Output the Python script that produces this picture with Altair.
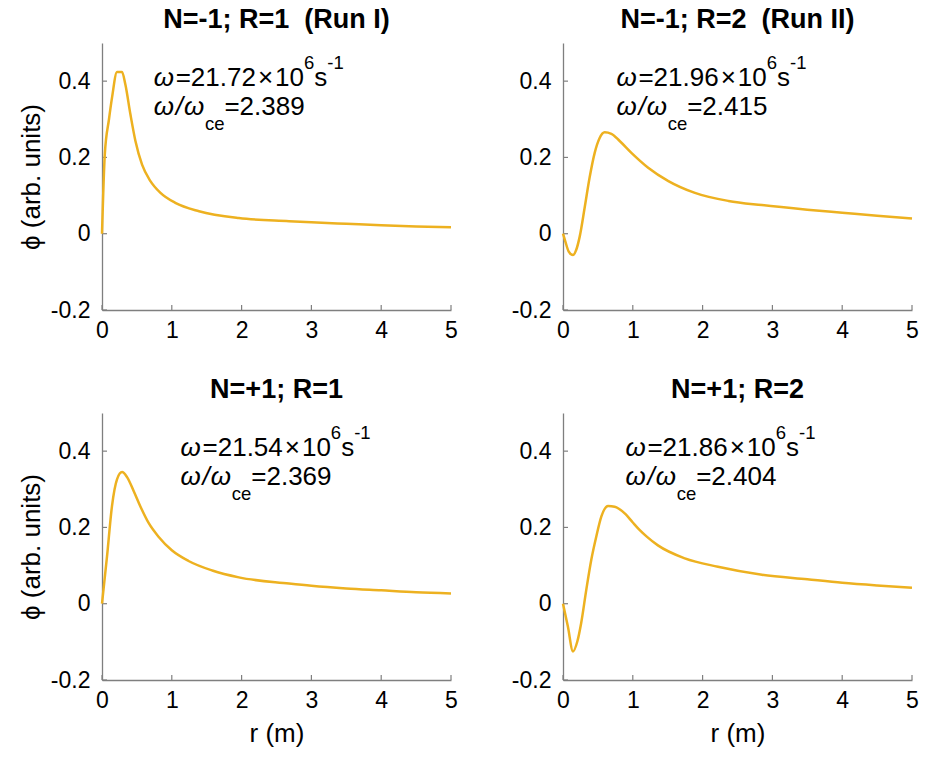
import altair as alt
import pandas as pd

# ---------------- data ----------------
r1 = [0, 0.04, 0.1, 0.143, 0.215, 0.287, 0.335, 0.407, 0.479, 0.574, 0.694, 0.838, 1.05, 1.39, 1.96, 2.68, 3.0, 3.5, 4.0, 4.5, 5.0]
phi1 = [0, 0.208, 0.30, 0.356, 0.424, 0.424, 0.391, 0.313, 0.243, 0.181, 0.138, 0.107, 0.081, 0.059, 0.041, 0.033, 0.030, 0.026, 0.022, 0.019, 0.017]

r2 = [0, 0.033, 0.08, 0.143, 0.19, 0.24, 0.31, 0.38, 0.454, 0.525, 0.597, 0.693, 0.812, 0.98, 1.22, 1.51, 1.89, 2.37, 2.85, 3.5, 4.0, 4.5, 5.0]
phi2 = [0, -0.02, -0.046, -0.056, -0.042, -0.007, 0.068, 0.146, 0.212, 0.251, 0.266, 0.262, 0.243, 0.212, 0.173, 0.138, 0.107, 0.086, 0.075, 0.063, 0.055, 0.047, 0.040]

r3 = [0, 0.072, 0.143, 0.215, 0.287, 0.359, 0.455, 0.55, 0.67, 0.813, 1.0, 1.24, 1.58, 1.96, 2.68, 3.0, 3.5, 4.0, 4.5, 5.0]
phi3 = [0, 0.124, 0.256, 0.326, 0.345, 0.332, 0.295, 0.255, 0.211, 0.175, 0.14, 0.112, 0.087, 0.069, 0.053, 0.047, 0.040, 0.035, 0.030, 0.027]

r4 = [0, 0.07, 0.143, 0.205, 0.26, 0.334, 0.406, 0.478, 0.55, 0.646, 0.74, 0.8, 0.9, 1.0, 1.1, 1.2, 1.36, 1.745, 2.22, 2.85, 3.5, 4.0, 4.5, 5.0]
phi4 = [0, -0.06, -0.125, -0.099, -0.051, 0.037, 0.116, 0.177, 0.229, 0.256, 0.254, 0.249, 0.234, 0.213, 0.193, 0.176, 0.153, 0.119, 0.097, 0.076, 0.064, 0.055, 0.048, 0.042]

titles = ["N=-1; R=1\u00a0 (Run I)", "N=-1; R=2\u00a0 (Run II)", "N=+1; R=1", "N=+1; R=2"]
omega_vals = ["21.72", "21.96", "21.54", "21.86"]
ratio_vals = ["2.389", "2.415", "2.369", "2.404"]
label_r = [0.74, 0.765, 1.125, 0.894]
label_phi = [0.387, 0.31]

xticks = [0, 1, 2, 3, 4, 5]
yticks = [-0.2, 0, 0.2, 0.4]

# ---------------- styling ----------------
FONT = "Liberation Sans"
F = 26      # annotation font
FS = 18.5   # super/subscript font
LINE_COLOR = "#EDB120"
AXIS_COLOR = "#7f7f7f"
W, H = 349, 267

ADV = {'0': .556, '1': .556, '2': .556, '3': .556, '4': .556, '5': .556, '6': .556,
       '7': .556, '8': .556, '9': .556, '.': .278, '=': .584, '\u00d7': .584,
       's': .5, '-': .333, 'c': .5, 'e': .556, '/': .278}


def tw(s, size):
    return sum(ADV[c] for c in s) * size


xscale = alt.Scale(domain=[0, 5], nice=False, zero=False)
yscale = alt.Scale(domain=[-0.2, 0.5], nice=False, zero=False)


def x_axis(show_title):
    return alt.Axis(values=xticks, ticks=False, tickSize=0, grid=False, labelFlush=False,
                    labelPadding=9, labelExpr="toString(datum.value)",
                    title="r (m)" if show_title else None, titlePadding=8)


def y_axis(show_title):
    return alt.Axis(values=yticks, ticks=False, tickSize=0, grid=False,
                    labelPadding=12, labelExpr="toString(datum.value)",
                    title="\u03d5 (arb. units)" if show_title else None, titlePadding=6)


def enc(xa, ya):
    return dict(x=alt.X("r:Q", scale=xscale, axis=xa), y=alt.Y("phi:Q", scale=yscale, axis=ya))


def piece(i, text, phi, dx, dy, size, xa, ya, italic=False):
    df = pd.DataFrame({"r": [label_r[i]], "phi": [phi], "txt": [text]})
    return alt.Chart(df).mark_text(
        align="left", baseline="alphabetic", dx=dx, dy=dy, fontSize=size, font=FONT,
        color="black", fontStyle="italic" if italic else "normal"
    ).encode(text="txt:N", **enc(xa, ya))


def panel(i, r, phi, show_y, show_x):
    xa, ya = x_axis(show_x), y_axis(show_y)
    line = alt.Chart(pd.DataFrame({"r": r, "phi": phi})).mark_line(
        color=LINE_COLOR, strokeWidth=2.5, interpolate="monotone"
    ).encode(**enc(xa, ya))
    xt = alt.Chart(pd.DataFrame({"r": xticks})).mark_rule(color=AXIS_COLOR, strokeWidth=1.2).encode(
        x=alt.X("r:Q", scale=xscale, axis=xa), y=alt.value(H), y2=alt.value(H - 5))
    yt = alt.Chart(pd.DataFrame({"phi": yticks})).mark_rule(color=AXIS_COLOR, strokeWidth=1.2).encode(
        y=alt.Y("phi:Q", scale=yscale, axis=ya), x=alt.value(0), x2=alt.value(5))

    p1, p2 = label_phi
    WO = 22
    layers = [xt, yt, line]
    # line 1: ω=21.72×10^6 s^-1
    d = 0
    layers.append(piece(i, "\u03c9", p1, d, 0, F, xa, ya, italic=True))
    d += WO
    layers.append(piece(i, "=" + omega_vals[i], p1, d, 0, F, xa, ya))
    d += tw("=" + omega_vals[i], F) + 2
    layers.append(piece(i, "\u00d7", p1, d, 0, F, xa, ya))
    d += tw("\u00d7", F) + 2
    layers.append(piece(i, "10", p1, d, 0, F, xa, ya))
    d += tw("10", F)
    layers.append(piece(i, "6", p1, d, -17, FS, xa, ya))
    d += tw("6", FS)
    layers.append(piece(i, "s", p1, d, 0, F, xa, ya))
    d += tw("s", F)
    layers.append(piece(i, "-1", p1, d, -17, FS, xa, ya))
    # line 2: ω/ω_ce=2.389
    d = 0
    layers.append(piece(i, "\u03c9", p2, d, 0, F, xa, ya, italic=True))
    d += WO
    layers.append(piece(i, "/", p2, d, 0, F, xa, ya, italic=True))
    d += tw("/", F) + 1
    layers.append(piece(i, "\u03c9", p2, d, 0, F, xa, ya, italic=True))
    d += WO - 1
    layers.append(piece(i, "ce", p2, d, 15, FS, xa, ya))
    d += tw("ce", FS)
    layers.append(piece(i, "=" + ratio_vals[i], p2, d, 0, F, xa, ya))

    return alt.layer(*layers).properties(
        width=W, height=H,
        title=alt.TitleParams(titles[i], font=FONT, fontSize=27, fontWeight="bold",
                              color="black", anchor="middle", offset=9)
    )


top = alt.hconcat(panel(0, r1, phi1, True, False), panel(1, r2, phi2, False, False), spacing=52)
bottom = alt.hconcat(panel(2, r3, phi3, True, True), panel(3, r4, phi4, False, True), spacing=52)

chart = alt.vconcat(top, bottom, spacing=32).properties(
    padding={"left": 17, "top": 5, "right": 5, "bottom": 5},
    background="white",
).configure_view(stroke="transparent").configure_axis(
    labelFont=FONT, titleFont=FONT, labelFontSize=23, titleFontSize=26,
    labelColor="black", titleColor="black", titleFontWeight="normal",
    domainColor=AXIS_COLOR, domainWidth=1.3,
)

chart.save("out.html", embed_options={"renderer": "svg", "actions": False})
